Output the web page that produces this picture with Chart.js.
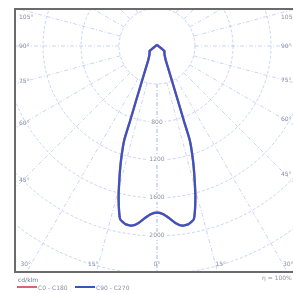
<!DOCTYPE html>
<html><head><meta charset="utf-8">
<script src="https://cdn.jsdelivr.net/npm/chart.js@4.4.1/dist/chart.umd.min.js"></script>
<style>
html,body{margin:0;padding:0;background:#fff;overflow:hidden}
#wrap{position:relative;width:293px;height:293px}
canvas{display:block}
.t{position:absolute;font-family:"DejaVu Sans",sans-serif;font-size:6px;color:#8a8fa8;white-space:nowrap;line-height:7px}
.ln{position:absolute;height:2px}
</style></head>
<body><div id="wrap">
<canvas id="c" width="293" height="293"></canvas>
<div class="t" style="left:18px;top:276px;color:#6a7090">cd/klm</div>
<div class="ln" style="left:17px;top:286px;width:20px;background:#e06070"></div>
<div class="t" style="left:38px;top:284px">C0 - C180</div>
<div class="ln" style="left:75px;top:286px;width:20px;background:#3456c4"></div>
<div class="t" style="left:96px;top:284px">C90 - C270</div>
<div class="t" style="left:262px;top:274px">η = 100%</div>
</div>
<script>
// gamma angles (degrees from nadir) and luminous intensity (cd/klm)
const gammaDeg = [0, 2, 4, 6, 8, 10, 12, 14, 15.7, 17.5, 19.2, 19.8, 21, 23.4, 26, 31.9, 40, 48, 56, 58, 62, 75, 90, 105, 120, 150, 180];
const intensityC0C180 = [1755, 1770, 1815, 1875, 1910, 1905, 1865, 1670, 1465, 1258, 1048, 828, 609, 390, 281, 173, 125, 105, 95, 70, 45, 21, 13, 11, 10, 10, 10];
const intensityC90C270 = [1755, 1770, 1815, 1875, 1910, 1905, 1865, 1670, 1465, 1258, 1048, 828, 609, 390, 281, 173, 125, 105, 95, 70, 45, 21, 13, 11, 10, 10, 10];
const ringValues = [400, 800, 1200, 1600, 2000, 2400, 2800, 3200];
const ringLabels = ['800', '1200', '1600', '2000'];
const angleTicks = [0, 15, 30, 45, 60, 75, 90, 105];
const seriesNames = ['C0 - C180', 'C90 - C270'];

function polarPoints(vals) {
  const pts = [];
  for (let i = gammaDeg.length - 1; i >= 0; i--) {
    const a = gammaDeg[i] * Math.PI / 180;
    pts.push({x: -vals[i] * Math.sin(a), y: -vals[i] * Math.cos(a)});
  }
  for (let i = 1; i < gammaDeg.length; i++) {
    const a = gammaDeg[i] * Math.PI / 180;
    pts.push({x: vals[i] * Math.sin(a), y: -vals[i] * Math.cos(a)});
  }
  return pts;
}

const gridColor = 'rgba(120,150,230,0.5)';
const polarGrid = {
  id: 'polarGrid',
  beforeDatasetsDraw(chart) {
    const {ctx, chartArea: ca, scales: {x: xs, y: ys}} = chart;
    const cx = xs.getPixelForValue(0), cy = ys.getPixelForValue(0);
    const rpx = v => xs.getPixelForValue(v) - cx;
    ctx.save();
    ctx.beginPath(); ctx.rect(ca.left, ca.top, ca.right - ca.left, ca.bottom - ca.top); ctx.clip();
    ctx.strokeStyle = gridColor; ctx.lineWidth = 0.8; ctx.setLineDash([3, 2]);
    ringValues.forEach(v => { ctx.beginPath(); ctx.arc(cx, cy, rpx(v), 0, Math.PI * 2); ctx.stroke(); });
    const r0 = rpx(ringValues[0]), r1 = rpx(4000);
    ctx.setLineDash([4, 2, 1, 2]);
    for (let g = 0; g <= 180; g += 15) {
      [-1, 1].forEach(s => {
        const a = g * Math.PI / 180;
        const dx = s * Math.sin(a), dy = Math.cos(a);
        ctx.beginPath(); ctx.moveTo(cx + dx * r0, cy + dy * r0); ctx.lineTo(cx + dx * r1, cy + dy * r1); ctx.stroke();
      });
    }
    ctx.setLineDash([]);
    ctx.font = '6px "DejaVu Sans", sans-serif';
    ctx.textAlign = 'center'; ctx.textBaseline = 'middle';
    ringLabels.forEach(l => {
      const y = cy + rpx(+l);
      const w = ctx.measureText(l).width;
      ctx.fillStyle = '#fff'; ctx.fillRect(cx - w / 2 - 2, y - 4, w + 4, 8);
      ctx.fillStyle = '#8a8fa8'; ctx.fillText(l, cx, y);
    });
    // angle labels
    const L = ca.left + 8, R = ca.right - 8, B = ca.bottom - 8;
    angleTicks.forEach(g => {
      [-1, 1].forEach(s => {
        if (g === 0 && s < 0) return;
        const a = g * Math.PI / 180;
        const dx = s * Math.sin(a), dy = Math.cos(a);
        let tSide = Infinity, tBot = Infinity;
        if (dx < 0) tSide = (L - cx) / dx; else if (dx > 0) tSide = (R - cx) / dx;
        if (dy > 0) tBot = (B - cy) / dy;
        const txt = g + '°';
        ctx.fillStyle = '#8a8fa8';
        if (tSide < tBot) {
          let y = cy + dy * tSide; y = Math.max(y, ca.top + 8);
          ctx.textAlign = 'left';
          ctx.fillText(txt, s < 0 ? ca.left + 4 : ca.right - 12, y);
        } else {
          const x = cx + dx * tBot;
          ctx.textAlign = g === 0 ? 'center' : (s < 0 ? 'right' : 'left');
          ctx.fillText(txt, x, B);
        }
      });
    });
    ctx.restore();
  },
  afterDraw(chart) {
    const {ctx, chartArea: ca} = chart;
    ctx.save();
    ctx.strokeStyle = '#6b6b6b'; ctx.lineWidth = 2;
    ctx.strokeRect(ca.left, ca.top, ca.right - ca.left + 4, ca.bottom - ca.top);
    ctx.restore();
  }
};

new Chart(document.getElementById('c'), {
  type: 'scatter',
  data: {
    datasets: [
      {label: seriesNames[0], data: polarPoints(intensityC0C180), showLine: true, borderColor: '#e06878', borderWidth: 2.4, pointRadius: 0, tension: 0.15, order: 2},
      {label: seriesNames[1], data: polarPoints(intensityC90C270), showLine: true, borderColor: '#3456c4', borderWidth: 2.2, pointRadius: 0, tension: 0.15, order: 1}
    ]
  },
  options: {
    responsive: false, animation: false,
    layout: {padding: {left: 15, top: 9, right: 0, bottom: 21}},
    scales: {
      x: {type: 'linear', min: -1495, max: 1432, display: false},
      y: {type: 'linear', min: -2379, max: 389, display: false}
    },
    plugins: {legend: {display: false}, tooltip: {enabled: false}}
  },
  plugins: [polarGrid]
});
</script>
</body></html>
